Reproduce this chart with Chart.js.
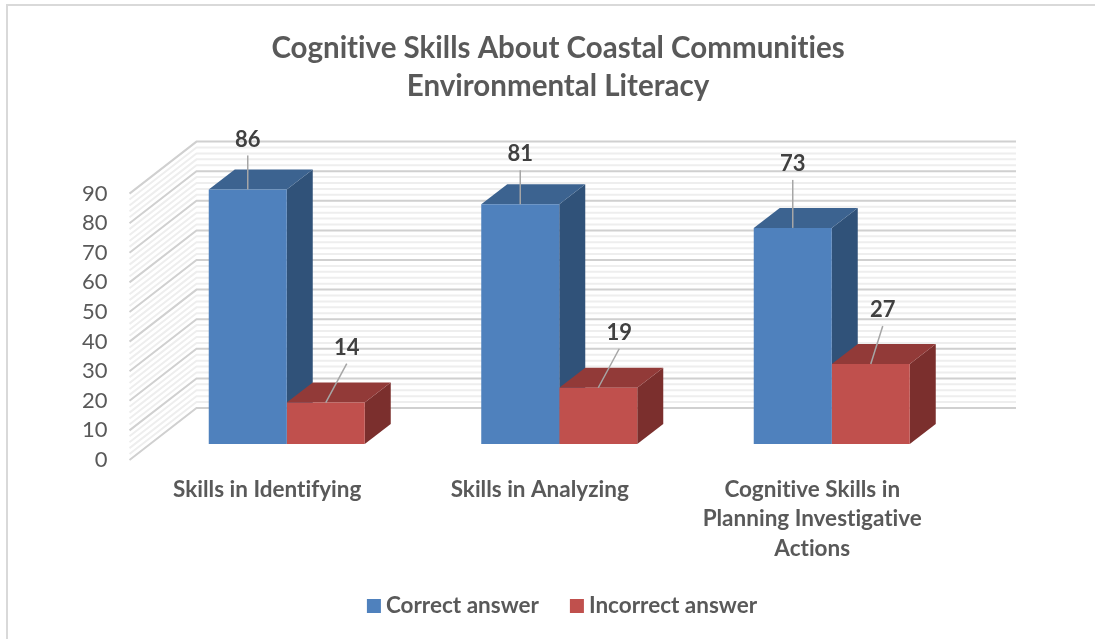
<!DOCTYPE html>
<html>
<head>
<meta charset="utf-8">
<title>Cognitive Skills</title>
<script src="https://cdn.jsdelivr.net/npm/chart.js@4/dist/chart.umd.min.js"></script>
<style>
  html, body { margin: 0; padding: 0; background: #fff; overflow: hidden; }
  #wrap { width: 1095px; height: 639px; position: relative; }
</style>
</head>
<body>
<div id="wrap"><canvas id="skillsChart" width="1095" height="639"></canvas></div>
<script>
const categories = [
    'Skills in Identifying',
    'Skills in Analyzing',
    ['Cognitive Skills in', 'Planning Investigative', 'Actions']
];
const correctAnswer = [86, 81, 73];
const incorrectAnswer = [14, 19, 27];
const valueTicks = [0, 10, 20, 30, 40, 50, 60, 70, 80, 90];
const titleLines = ['Cognitive Skills About Coastal Communities', 'Environmental Literacy'];

const FONT = 'Lato, Carlito, sans-serif';

// oblique offsets of the 3D box: bar depth, and the walls relative to the bar plane
const depth = { x: 26, y: -20 };
const frontEdge = { x: -21, y: 16 };
const backWall = { x: 46, y: -36 };
const wallOverhang = 48;

// leader line from the bar top to its value label, one per dataset and category
const leaders = [
    [[0, -34], [0, -34], [0, -48]],
    [[21, -39], [21, -39], [12, -38]]
];

const faceColors = [
    { top: '#3c6390', side: '#305279' },
    { top: '#923a38', side: '#7b2f2d' }
];

function poly(ctx, pts, fill) {
    ctx.beginPath();
    pts.forEach((p, i) => i ? ctx.lineTo(p[0], p[1]) : ctx.moveTo(p[0], p[1]));
    ctx.closePath();
    ctx.fillStyle = fill;
    ctx.fill();
}

const walls3d = {
    id: 'walls3d',
    beforeDraw(chart) {
        const { ctx } = chart;
        // no ligatures in the Lato labels
        ctx.textRendering = 'optimizeSpeed';
        ctx.save();
        ctx.strokeStyle = '#d9d9d9';
        ctx.lineWidth = 2;
        ctx.beginPath();
        ctx.moveTo(7, 639);
        ctx.lineTo(7, 5);
        ctx.lineTo(1095, 5);
        ctx.stroke();
        ctx.restore();
    },
    beforeDatasetsDraw(chart) {
        const { ctx, chartArea, scales } = chart;
        const y = scales.y;
        const left = chartArea.left, right = chartArea.right;
        ctx.save();
        // minor lines first so the major ones sit on top
        for (let pass = 0; pass < 2; pass++) {
            ctx.strokeStyle = pass ? '#d0d0d0' : '#eeeeee';
            ctx.lineWidth = 2;
            for (let v = 0; v <= 90; v += 2) {
                const major = v % 10 === 0;
                if (major !== (pass === 1)) continue;
                const py = y.getPixelForValue(v);
                ctx.beginPath();
                ctx.moveTo(left + frontEdge.x, py + frontEdge.y);
                ctx.lineTo(left + backWall.x, py + backWall.y);
                ctx.lineTo(right + wallOverhang, py + backWall.y);
                ctx.stroke();
            }
        }
        // top and side faces, first series behind the second
        chart.data.datasets.forEach((ds, i) => {
            chart.getDatasetMeta(i).data.forEach(bar => {
                const l = bar.x - bar.width / 2, r = bar.x + bar.width / 2;
                const t = bar.y, b = bar.base;
                poly(ctx, [[r, t], [r + depth.x, t + depth.y], [r + depth.x, b + depth.y], [r, b]], faceColors[i].side);
                poly(ctx, [[l, t], [l + depth.x, t + depth.y], [r + depth.x, t + depth.y], [r, t]], faceColors[i].top);
            });
        });
        ctx.restore();
    },
    afterDatasetsDraw(chart) {
        const { ctx } = chart;
        ctx.save();
        chart.data.datasets.forEach((ds, i) => {
            chart.getDatasetMeta(i).data.forEach((bar, j) => {
                const off = leaders[i][j];
                ctx.strokeStyle = '#a6a6a6';
                ctx.lineWidth = 1.5;
                ctx.beginPath();
                ctx.moveTo(bar.x, bar.y);
                ctx.lineTo(bar.x + off[0], bar.y + off[1]);
                ctx.stroke();
                ctx.fillStyle = '#404040';
                ctx.font = 'bold 22px ' + FONT;
                ctx.textAlign = 'center';
                ctx.textBaseline = 'middle';
                ctx.fillText(ds.data[j], bar.x + off[0], bar.y + off[1] - 16);
            });
        });
        ctx.restore();
    },
    // legend row with a tight gap between swatch and text
    afterDraw(chart) {
        const { ctx } = chart;
        const boxSize = 14, boxGap = 5, itemGap = 31, legendY = 606, legendCenter = 562;
        ctx.save();
        ctx.font = 'bold 22.5px ' + FONT;
        ctx.textAlign = 'left';
        ctx.textBaseline = 'middle';
        const sets = chart.data.datasets;
        const widths = sets.map(ds => ctx.measureText(ds.label).width);
        const total = widths.reduce((a, w) => a + w + boxSize + boxGap, 0) + itemGap * (sets.length - 1);
        let x = legendCenter - total / 2;
        sets.forEach((ds, i) => {
            ctx.fillStyle = ds.backgroundColor;
            ctx.fillRect(x, legendY - boxSize / 2, boxSize, boxSize);
            x += boxSize + boxGap;
            ctx.fillStyle = '#595959';
            ctx.fillText(ds.label, x, legendY);
            x += widths[i] + itemGap;
        });
        ctx.restore();
    }
};

new Chart(document.getElementById('skillsChart').getContext('2d'), {
    type: 'bar',
    data: {
        labels: categories,
        datasets: [
            { label: 'Correct answer', data: correctAnswer, backgroundColor: '#4f81bd', borderWidth: 0 },
            { label: 'Incorrect answer', data: incorrectAnswer, backgroundColor: '#c0504d', borderWidth: 0 }
        ]
    },
    options: {
        responsive: false,
        animation: false,
        layout: { padding: { left: 21 } },
        categoryPercentage: 0.5725,
        barPercentage: 1,
        scales: {
            x: {
                grid: { display: false, drawTicks: false },
                border: { display: false },
                afterFit(scale) { scale.height = 195; },
                ticks: {
                    color: '#595959',
                    font: { family: FONT, size: 22.5, weight: 'bold', lineHeight: 1.31 },
                    padding: 31,
                    labelOffset: -19.5,
                    maxRotation: 0,
                    autoSkip: false
                }
            },
            y: {
                min: 0,
                max: 90,
                afterFit(scale) { scale.width = 129.5; },
                afterBuildTicks(scale) { scale.ticks = valueTicks.map(value => ({ value })); },
                grid: { display: false, drawTicks: false },
                border: { display: false },
                ticks: {
                    color: '#595959',
                    font: { family: FONT, size: 22 },
                    padding: 43,
                    labelOffset: 16
                }
            },
            // empty axis that reserves the room the walls need on the right
            spacer: {
                position: 'right',
                afterFit(scale) { scale.width = 127; },
                grid: { display: false, drawTicks: false },
                border: { display: false },
                ticks: { display: false }
            }
        },
        plugins: {
            tooltip: { enabled: false },
            legend: { display: false },
            title: {
                display: true,
                text: titleLines,
                color: '#595959',
                font: { family: FONT, size: 29.5, weight: 'bold', lineHeight: 1.288 },
                padding: { top: 29, bottom: 72.6 }
            }
        }
    },
    plugins: [walls3d]
});
</script>
</body>
</html>
